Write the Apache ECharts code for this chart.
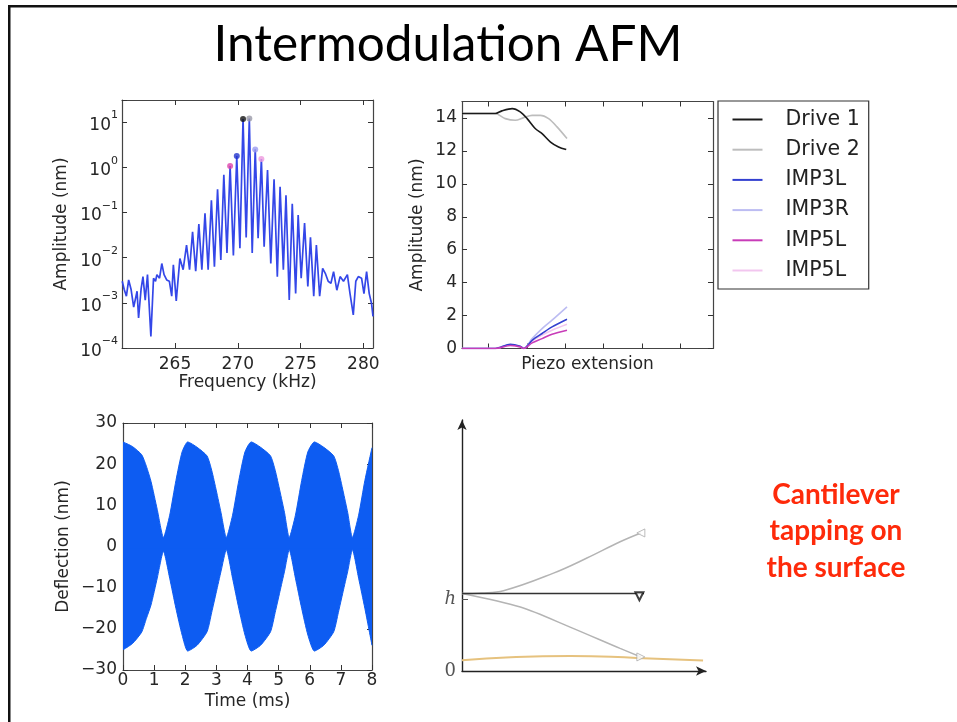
<!DOCTYPE html>
<html>
<head>
<meta charset="utf-8">
<title>Intermodulation AFM</title>
<script src="https://cdn.jsdelivr.net/npm/echarts@6.0.0/dist/echarts.min.js"></script>
<style>
  html, body { margin: 0; padding: 0; background: #fff; }
  #chart { width: 957px; height: 722px; }
</style>
</head>
<body>
<div id="chart"></div>
<script>
// --- top left: spectrum around the drives (kHz, nm)
const specFreq = [260.80, 260.95, 261.13, 261.31, 261.50, 261.71, 261.98, 262.10, 262.30, 262.45,
  262.63, 262.81, 263.08, 263.29, 263.45, 263.56, 263.77, 263.95, 264.13, 264.34, 264.55, 264.74,
  264.87, 265.10, 265.39, 265.65, 265.92, 266.16, 266.40, 266.65, 266.90, 267.14, 267.39, 267.64,
  267.90, 268.14, 268.39, 268.65, 268.89, 269.14, 269.39, 269.65, 269.92, 270.17, 270.42, 270.67,
  270.92, 271.15, 271.39, 271.62, 271.88, 272.10, 272.37, 272.63, 272.89, 273.15, 273.37, 273.63,
  273.84, 274.10, 274.34, 274.61, 274.81, 275.05, 275.32, 275.58, 275.79, 276.05, 276.26, 276.52,
  276.76, 276.97, 277.20, 277.42, 277.63, 277.89, 278.15, 278.42, 278.73, 278.94, 279.20, 279.40,
  279.60, 279.86, 280.05, 280.26, 280.47, 280.65, 280.77]
const specAmp = [0.0030, 0.0020, 0.0014, 0.0032, 0.0020, 0.0008, 0.0018, 0.00046, 0.0020, 0.0038,
  0.00115, 0.0042, 0.00018, 0.0035, 0.0030, 0.0042, 0.0035, 0.0074, 0.0042, 0.0032, 0.0030, 0.0014,
  0.0069, 0.0011, 0.0095, 0.0054, 0.019, 0.0054, 0.037, 0.0050, 0.055, 0.0054, 0.0955, 0.0054,
  0.186, 0.0063, 0.324, 0.0089, 0.676, 0.0126, 1.06, 0.0112, 1.77, 0.0162, 11.6, 0.028,
  12.0, 0.0126, 2.48, 0.027, 1.51, 0.0174, 0.87, 0.0074, 0.54, 0.0038, 0.37, 0.0054,
  0.24, 0.00115, 0.155, 0.0016, 0.087, 0.0035, 0.058, 0.0023, 0.028, 0.0014, 0.019, 0.0014,
  0.0058, 0.0045, 0.0030, 0.0027, 0.0049, 0.0019, 0.0038, 0.0030, 0.0042, 0.0016, 0.00054, 0.0030,
  0.0038, 0.0035, 0.0016, 0.0049, 0.0016, 0.00098, 0.0005]
const freqTicks = [265, 270, 275, 280]
// marked peaks: drive 1, drive 2, IMP3L, IMP3R, IMP5L, IMP5R
const peakFreq = [270.42, 270.92, 269.92, 271.39, 269.39, 271.88]
const peakAmp = [11.6, 12.0, 1.77, 2.48, 1.06, 1.51]

// --- top right: amplitudes vs piezo extension (arbitrary x units)
const drive1X = [0, 0.87, 1.04, 1.31, 1.52, 1.70, 1.91, 2.09, 2.31, 2.52, 2.72]
const drive1Y = [14.27, 14.27, 14.43, 14.57, 14.37, 13.96, 13.36, 13.05, 12.54, 12.24, 12.08]
const drive2X = [0, 0.87, 1.13, 1.39, 1.61, 1.83, 2.04, 2.26, 2.48, 2.74]
const drive2Y = [14.27, 14.27, 13.96, 13.86, 14.02, 14.16, 14.16, 13.96, 13.46, 12.75]
const impX = [0, 0.87, 1.26, 1.52, 1.61, 1.83, 2.09, 2.35, 2.74]
const imp3L = [0, 0, 0.26, 0.14, 0, 0.5, 0.91, 1.31, 1.78]
const imp3R = [0, 0, 0.22, 0.12, 0, 0.6, 1.21, 1.72, 2.53]
const imp5L = [0, 0, 0.18, 0.1, 0, 0.34, 0.6, 0.87, 1.11]
const imp5R = [0, 0, 0.2, 0.1, 0, 0.46, 0.81, 1.11, 1.47]
const piezoTicks = [0.695, 1.695, 2.695, 3.695, 4.695, 5.695]
const ampTicks = [0, 2, 4, 6, 8, 10, 12, 14]

// --- bottom left: deflection envelope (ms, nm)
const envTime = [0, 0.3, 0.6, 0.75, 0.9, 1.1, 1.3, 1.5, 1.7, 1.9, 2.08, 2.38, 2.7, 2.85, 3.0, 3.15,
  3.32, 3.52, 3.72, 3.92, 4.12, 4.42, 4.74, 4.89, 5.04, 5.19, 5.34, 5.54, 5.74, 5.94, 6.15, 6.45,
  6.77, 6.92, 7.07, 7.22, 7.37, 7.57, 7.77, 8.0]
const envUpper = [25.4, 24.3, 22.3, 19.5, 15.8, 9.0, 2.2, 7.6, 16.0, 23.0, 25.4, 24.1, 22.0, 18.5, 13.5, 8.2,
  2.2, 7.6, 16.0, 23.0, 25.4, 24.1, 22.0, 18.5, 13.5, 8.2, 2.2, 7.6, 16.0, 23.0, 25.4, 24.1,
  22.0, 18.5, 13.5, 8.2, 2.2, 7.6, 16.0, 24.0]
const envLower = [-25.1, -23.6, -20.8, -17.5, -14.2, -7.7, -1.2, -7.7, -15.0, -21.5, -25.4, -24.0, -20.7, -16.0, -11.0, -6.0,
  -0.8, -7.7, -15.0, -21.5, -25.4, -24.0, -20.7, -16.0, -11.0, -6.0, -0.8, -7.7, -15.0, -21.5, -25.4, -24.0,
  -20.7, -16.0, -11.0, -6.0, -0.8, -7.7, -15.0, -24.0]

// --- bottom right: cantilever sketch
const flatX = [0, 7.46]
const flatY = [3.09, 3.09]
const upX = [0, 0.8, 1.7, 3.75, 5.12, 6.48, 7.33]
const upY = [3.09, 3.11, 3.2, 3.9, 4.5, 5.15, 5.5]
const downX = [0, 2.39, 4.43, 6.48, 7.33]
const downY = [3.09, 2.55, 1.75, 0.9, 0.56]
const surfX = [0, 2, 4.44, 7.16, 9.88]
const surfY = [0.43, 0.55, 0.6, 0.52, 0.42]
const tipX = [7.27, 7.33, 7.33]
const tipY = [2.98, 5.5, 0.56]
const sketchTicks = [0, 2.85]

const pairs = (xs, ys) => xs.map((x, i) => [x, ys[i]])

const font = 'DejaVu Sans'
const txt = { color: '#262626', fontFamily: font, fontSize: 17 }
const frame = { show: true, onZero: false, lineStyle: { color: '#444', width: 1.2 } }
const ticks = { inside: true, length: 5, lineStyle: { color: '#333', width: 1 } }
const noSplit = { show: false }
const minus = v => String(v).replace('-', '\u2212')

// copy of an axis for the other side of the box, ticks only
function mirror(ax, position) {
  return Object.assign({}, ax, {
    position: position,
    name: '',
    axisLabel: { show: false },
    axisTick: Object.assign({}, ax.axisTick)
  })
}

const x1 = {
  type: 'value', gridIndex: 0, min: 260.78, max: 280.77,
  axisLine: frame, splitLine: noSplit,
  axisTick: Object.assign({}, ticks, { customValues: freqTicks }),
  axisLabel: Object.assign({}, txt, { margin: 8, customValues: freqTicks }),
  name: 'Frequency (kHz)', nameLocation: 'middle', nameGap: 22, nameTextStyle: txt
}
const y1 = {
  type: 'log', logBase: 10, gridIndex: 0, min: 0.0001, max: 30.7,
  axisLine: frame, splitLine: noSplit, minorTick: { show: false },
  axisTick: ticks,
  axisLabel: {
    margin: 4,
    formatter: v => {
      const e = Math.log10(v)
      const r = Math.round(e)
      if (Math.abs(e - r) > 0.01) return ''
      return '{b|10}{s|' + minus(r) + '}'
    },
    rich: {
      b: { fontFamily: font, fontSize: 17, color: '#262626', lineHeight: 24, verticalAlign: 'bottom' },
      s: { fontFamily: font, fontSize: 11, color: '#262626', lineHeight: 24, verticalAlign: 'top' }
    }
  },
  name: 'Amplitude (nm)', nameLocation: 'middle', nameGap: 52, nameTextStyle: txt
}
const x2 = {
  type: 'value', gridIndex: 1, min: 0, max: 6.55,
  axisLine: frame, splitLine: noSplit,
  axisTick: Object.assign({}, ticks, { customValues: piezoTicks }),
  axisLabel: { show: false },
  name: 'Piezo extension', nameLocation: 'middle', nameGap: 8, nameTextStyle: txt
}
const y2 = {
  type: 'value', gridIndex: 1, min: 0, max: 15,
  axisLine: frame, splitLine: noSplit,
  axisTick: Object.assign({}, ticks, { customValues: ampTicks }),
  axisLabel: Object.assign({}, txt, { margin: 5, customValues: ampTicks }),
  name: 'Amplitude (nm)', nameLocation: 'middle', nameGap: 36, nameTextStyle: txt
}
const x3 = {
  type: 'value', gridIndex: 2, min: 0, max: 8, interval: 1,
  axisLine: frame, splitLine: noSplit, axisTick: ticks,
  axisLabel: Object.assign({}, txt, { margin: 2 }),
  name: 'Time (ms)', nameLocation: 'middle', nameGap: 23, nameTextStyle: txt
}
const y3 = {
  type: 'value', gridIndex: 2, min: -30, max: 30, interval: 10,
  axisLine: frame, splitLine: noSplit, axisTick: ticks,
  axisLabel: Object.assign({}, txt, { margin: 6, formatter: minus }),
  name: 'Deflection (nm)', nameLocation: 'middle', nameGap: 51, nameTextStyle: txt
}
const sketchAxis = { show: true, onZero: false, symbol: ['none', 'arrow'], symbolSize: [7, 10],
  lineStyle: { color: '#222', width: 1.4 } }
const x4 = {
  type: 'value', gridIndex: 3, min: 0, max: 10,
  axisLine: sketchAxis, splitLine: noSplit, axisTick: { show: false }, axisLabel: { show: false }
}
const y4 = {
  type: 'value', gridIndex: 3, min: 0, max: 10,
  axisLine: sketchAxis, splitLine: noSplit,
  axisTick: { inside: true, length: 6, customValues: [sketchTicks[1]], lineStyle: { color: '#555' } },
  axisLabel: {
    margin: 6, customValues: sketchTicks,
    formatter: v => (Math.abs(v) < 0.01 ? '{n|0}' : '{h|h}'),
    rich: {
      n: { fontFamily: 'DejaVu Serif', fontSize: 18, color: '#555' },
      h: { fontFamily: 'DejaVu Serif', fontStyle: 'italic', fontSize: 18, color: '#555' }
    }
  }
}

const blue = '#3447e8'
const fill = '#0d5cf2'
const grayLine = '#b4b4b4'
const peakColors = ['#111111', '#9a9aa8', '#2233cc', '#9c9cf0', '#dd44aa', '#ee99dd']

const chart = echarts.init(document.getElementById('chart'))
chart.setOption({
  animation: false,
  backgroundColor: '#fff',
  grid: [
    { left: 122, top: 100, width: 251, height: 248 },
    { left: 462, top: 101.5, width: 251, height: 247 },
    { left: 123, top: 423, width: 249, height: 247 },
    { left: 462, top: 420, width: 244, height: 251 }
  ],
  xAxis: [x1, mirror(x1, 'top'), x2, mirror(x2, 'top'), x3, mirror(x3, 'top'), x4],
  yAxis: [y1, mirror(y1, 'right'), y2, mirror(y2, 'right'), y3, mirror(y3, 'right'), y4],
  legend: {
    data: ['Drive 1', 'Drive 2', 'IMP3L', 'IMP3R', 'IMP5L', 'IMP5R'],
    formatter: n => (n === 'IMP5R' ? 'IMP5L' : n),
    selectedMode: false,
    orient: 'vertical', left: 718, top: 101,
    icon: 'rect', itemWidth: 30, itemHeight: 2, itemGap: 9.2,
    padding: [8, 9, 8, 14.5],
    borderColor: '#333', borderWidth: 1.2, borderRadius: 0,
    textStyle: { fontFamily: font, fontSize: 20.5, color: '#222', lineHeight: 20, padding: [0, 0, 0, 18] }
  },
  graphic: [
    { type: 'rect', shape: { x: 8, y: 5, width: 949, height: 2.5 }, style: { fill: '#111' } },
    { type: 'rect', shape: { x: 8, y: 5, width: 2.5, height: 717 }, style: { fill: '#111' } },
    { type: 'text', x: 448, y: 45,
      style: { text: 'Intermodulation AFM', fontFamily: 'Lato', fontSize: 49.5, fill: '#000',
        align: 'center', verticalAlign: 'middle' } },
    { type: 'text', x: 836, y: 531,
      style: { text: 'Cantilever\ntapping on\nthe surface', fontFamily: 'Lato', fontWeight: 'bold',
        fontSize: 28, lineHeight: 36.5, fill: '#fe2a0a', align: 'center', verticalAlign: 'middle' } }
  ],
  series: [
    { type: 'line', xAxisIndex: 0, yAxisIndex: 0, data: pairs(specFreq, specAmp), symbol: 'none',
      lineStyle: { color: blue, width: 1.7 }, itemStyle: { color: blue }, z: 2 },
    { type: 'scatter', xAxisIndex: 0, yAxisIndex: 0, symbolSize: 6, z: 3,
      data: peakFreq.map((f, i) => ({ value: [f, peakAmp[i]], itemStyle: { color: peakColors[i] } })) },

    { name: 'Drive 1', type: 'line', xAxisIndex: 2, yAxisIndex: 2, data: pairs(drive1X, drive1Y),
      smooth: 0.3, symbol: 'none', lineStyle: { color: '#1a1a1a', width: 1.6 }, itemStyle: { color: '#1a1a1a' }, z: 4 },
    { name: 'Drive 2', type: 'line', xAxisIndex: 2, yAxisIndex: 2, data: pairs(drive2X, drive2Y),
      smooth: 0.3, symbol: 'none', lineStyle: { color: '#bdbdbd', width: 1.6 }, itemStyle: { color: '#bdbdbd' }, z: 3 },
    { name: 'IMP3L', type: 'line', xAxisIndex: 2, yAxisIndex: 2, data: pairs(impX, imp3L),
      smooth: 0.3, symbol: 'none', lineStyle: { color: '#3340d0', width: 1.6 }, itemStyle: { color: '#3340d0' }, z: 4 },
    { name: 'IMP3R', type: 'line', xAxisIndex: 2, yAxisIndex: 2, data: pairs(impX, imp3R),
      smooth: 0.3, symbol: 'none', lineStyle: { color: '#bcbcf2', width: 1.6 }, itemStyle: { color: '#bcbcf2' }, z: 3 },
    { name: 'IMP5L', type: 'line', xAxisIndex: 2, yAxisIndex: 2, data: pairs(impX, imp5L),
      smooth: 0.3, symbol: 'none', lineStyle: { color: '#c83cb8', width: 1.6 }, itemStyle: { color: '#c83cb8' }, z: 4 },
    { name: 'IMP5R', type: 'line', xAxisIndex: 2, yAxisIndex: 2, data: pairs(impX, imp5R),
      smooth: 0.3, symbol: 'none', lineStyle: { color: '#f2c6ef', width: 1.6 }, itemStyle: { color: '#f2c6ef' }, z: 3 },

    // envelope band: upper half filled a little past zero so the two halves overlap
    { type: 'line', xAxisIndex: 4, yAxisIndex: 4, data: pairs(envTime, envLower), symbol: 'none', smooth: 0.2,
      lineStyle: { color: fill, width: 1 }, areaStyle: { color: fill, opacity: 1, origin: 0 } },
    { type: 'line', xAxisIndex: 4, yAxisIndex: 4, data: pairs(envTime, envUpper), symbol: 'none', smooth: 0.2,
      lineStyle: { color: fill, width: 1 }, areaStyle: { color: fill, opacity: 1, origin: -0.5 } },

    { type: 'line', xAxisIndex: 6, yAxisIndex: 6, data: pairs(surfX, surfY), smooth: 0.5, symbol: 'none',
      lineStyle: { color: '#e6c27e', width: 2 } },
    { type: 'line', xAxisIndex: 6, yAxisIndex: 6, data: pairs(upX, upY), smooth: 0.4, symbol: 'none',
      lineStyle: { color: grayLine, width: 1.5 } },
    { type: 'line', xAxisIndex: 6, yAxisIndex: 6, data: pairs(downX, downY), smooth: 0.3, symbol: 'none',
      lineStyle: { color: grayLine, width: 1.5 } },
    { type: 'line', xAxisIndex: 6, yAxisIndex: 6, data: pairs(flatX, flatY), symbol: 'none',
      lineStyle: { color: '#333', width: 1.5 } },
    { type: 'scatter', xAxisIndex: 6, yAxisIndex: 6, z: 5,
      data: [
        { value: [tipX[0], tipY[0]], symbol: 'triangle', symbolRotate: 180, symbolSize: 8,
          itemStyle: { color: '#fff', borderColor: '#111', borderWidth: 2 } },
        { value: [tipX[1], tipY[1]], symbol: 'triangle', symbolRotate: 90, symbolSize: 8,
          itemStyle: { color: '#fff', borderColor: '#aaa', borderWidth: 1 } },
        { value: [tipX[2], tipY[2]], symbol: 'triangle', symbolRotate: -90, symbolSize: 8,
          itemStyle: { color: '#fff', borderColor: '#aaa', borderWidth: 1 } }
      ] }
  ]
})
</script>
</body>
</html>
